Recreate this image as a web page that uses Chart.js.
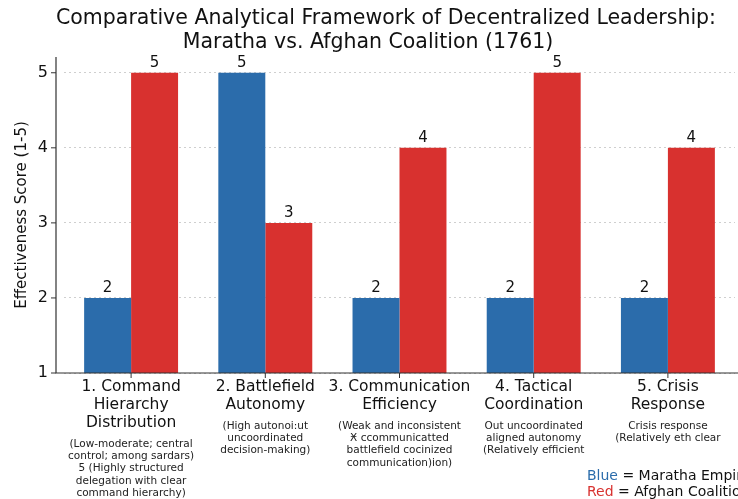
<!DOCTYPE html>
<html>
<head>
<meta charset="utf-8">
<script src="https://cdn.jsdelivr.net/npm/chart.js@4/dist/chart.umd.min.js"></script>
<style>
html,body{margin:0;padding:0;background:#fff;}
#wrap{width:738px;height:499px;}
</style>
</head>
<body>
<div id="wrap"><canvas id="c" width="738" height="499"></canvas></div>
<script>
const titleLines = ["Comparative Analytical Framework of Decentralized Leadership:", "Maratha vs. Afghan Coalition (1761)"];
const categories = [
  ["1. Command", "Hierarchy", "Distribution"],
  ["2. Battlefield", "Autonomy"],
  ["3. Communication", "Efficiency"],
  ["4. Tactical", "Coordination"],
  ["5. Crisis", "Response"]
];
const notes = [
  ["(Low-moderate; central", "control; among sardars)", "5 (Highly structured", "delegation with clear", "command hierarchy)"],
  ["(High autonoi:ut", "uncoordinated", "decision-making)"],
  ["(Weak and inconsistent", "Ӿ ccommunicatted", "battlefield cocinized", "communication)ion)"],
  ["Out uncoordinated", "aligned autonomy", "(Relatively efficient"],
  ["Crisis response", "(Relatively eth clear"]
];
const marathaScores = [2, 5, 2, 2, 2];
const afghanScores = [5, 3, 4, 5, 4];
const yTicks = [1, 2, 3, 4, 5];
const yTitle = "Effectiveness Score (1-5)";
const legendLines = [["Blue", " = Maratha Empire"], ["Red", " = Afghan Coalition"]];

const BLUE = "#2b6cab";
const RED = "#d8312f";
const FONT = "'DejaVu Sans', sans-serif";

const decor = {
  id: "decor",
  afterDraw(chart) {
    const ctx = chart.ctx;
    const x = chart.scales.x, y = chart.scales.y;
    const ca = chart.chartArea;
    const spineX = 56;
    ctx.save();
    // spines
    ctx.strokeStyle = "#333";
    ctx.lineWidth = 1.2;
    ctx.beginPath();
    ctx.moveTo(spineX, ca.top);
    ctx.lineTo(spineX, ca.bottom);
    ctx.lineTo(chart.width, ca.bottom);
    ctx.stroke();
    // y tick marks
    ctx.lineWidth = 1;
    yTicks.forEach(v => {
      const py = y.getPixelForValue(v);
      ctx.beginPath(); ctx.moveTo(spineX - 5, py); ctx.lineTo(spineX, py); ctx.stroke();
    });
    // x tick marks
    categories.forEach((c, i) => {
      const px = x.getPixelForValue(i);
      ctx.beginPath(); ctx.moveTo(px, ca.bottom); ctx.lineTo(px, ca.bottom + 5); ctx.stroke();
    });
    // title
    ctx.fillStyle = "#111";
    ctx.textAlign = "center";
    ctx.textBaseline = "middle";
    ctx.font = "20.5px " + FONT;
    ctx.fillText(titleLines[0], 386, 19);
    ctx.fillText(titleLines[1], 368, 43);
    // value labels
    ctx.font = "15px " + FONT;
    ctx.textBaseline = "bottom";
    chart.data.datasets.forEach((ds, di) => {
      const meta = chart.getDatasetMeta(di);
      meta.data.forEach((bar, i) => {
        ctx.fillText(String(ds.data[i]), bar.x, bar.y - 2);
      });
    });
    // notes
    ctx.font = "10.5px " + FONT;
    ctx.fillStyle = "#222";
    ctx.textBaseline = "middle";
    notes.forEach((lines, i) => {
      const px = x.getPixelForValue(i);
      const startY = 386 + (categories[i].length - 1) * 18 + 22;
      lines.forEach((t, k) => ctx.fillText(t, px, startY + k * 12.3));
    });
    // legend
    ctx.font = "14px " + FONT;
    ctx.textAlign = "left";
    const lx = 587;
    legendLines.forEach((parts, k) => {
      const ly = 476 + k * 16;
      ctx.fillStyle = k === 0 ? BLUE : RED;
      ctx.fillText(parts[0], lx, ly);
      const w = ctx.measureText(parts[0]).width;
      ctx.fillStyle = "#111";
      ctx.fillText(parts[1], lx + w, ly);
    });
    ctx.restore();
  }
};

new Chart(document.getElementById("c"), {
  type: "bar",
  data: {
    labels: categories,
    datasets: [
      { label: "Maratha Empire", data: marathaScores, backgroundColor: BLUE },
      { label: "Afghan Coalition", data: afghanScores, backgroundColor: RED }
    ]
  },
  options: {
    responsive: false,
    animation: false,
    devicePixelRatio: 1,
    layout: { padding: { top: 57, right: 3, left: 0, bottom: 0 } },
    plugins: { legend: { display: false }, title: { display: false }, tooltip: { enabled: false } },
    datasets: { bar: { categoryPercentage: 0.7, barPercentage: 1.0 } },
    scales: {
      x: {
        offset: true,
        grid: { display: false, drawTicks: false },
        border: { display: false },
        ticks: { color: "#111", font: { family: FONT, size: 15.5, lineHeight: 1.16 }, padding: 5, maxRotation: 0, autoSkip: false },
        afterFit(s) { s.height = 126; }
      },
      y: {
        min: 1,
        max: 5.21,
        afterBuildTicks(s) { s.ticks = yTicks.map(v => ({ value: v })); },
        grid: { color: "#cfcfcf", drawTicks: false },
        border: { display: false, dash: [2, 3] },
        ticks: { color: "#111", font: { family: FONT, size: 16 }, padding: 16 },
        title: { display: true, text: yTitle, color: "#111", font: { family: FONT, size: 15 }, padding: { top: 13, bottom: 0 } },
        afterFit(s) { s.width = 64; }
      }
    }
  },
  plugins: [decor]
});
</script>
</body>
</html>
